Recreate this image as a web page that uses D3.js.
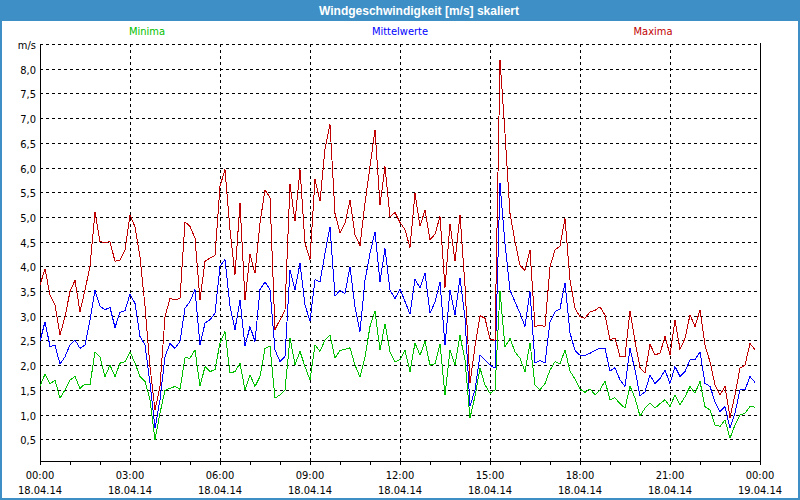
<!DOCTYPE html>
<html><head><meta charset="utf-8">
<script src="https://cdn.jsdelivr.net/npm/d3@7"></script>
<style>body{margin:0;background:#fff}svg{display:block}</style>
</head><body>
<svg id="c" width="800" height="500"></svg>
<script>
// ---- data (10-minute samples, 18.04.14 00:00 .. 23:50) ----
const startTime = new Date(2014, 3, 18, 0, 0);
const endTime = new Date(2014, 3, 19, 0, 0);
const stepMinutes = 10;
const maxima = [3.62,3.95,3.42,3.22,2.61,2.98,3.49,3.72,3.08,3.52,4.0,5.1,4.5,4.48,4.5,4.1,4.13,4.33,5.04,4.8,4.2,3.19,1.97,1.09,1.57,2.98,3.35,3.32,3.35,4.9,
4.81,4.57,3.32,4.1,4.17,4.22,5.62,5.96,4.74,3.83,5.28,3.32,4.24,3.86,4.88,5.55,5.39,2.72,2.92,3.12,5.66,4.91,5.96,4.47,4.14,5.76,5.32,6.37,6.87,5.07,
4.67,4.87,5.34,4.64,4.42,5.28,6.02,6.76,5.24,6.02,5.0,5.09,4.89,4.74,4.38,5.48,4.81,5.14,4.54,4.65,5.01,3.57,4.86,4.1,5.04,3.6,1.64,2.38,3.0,2.95,
2.53,2.5,8.18,6.69,5.07,4.5,4.02,3.92,4.33,2.78,2.81,2.78,3.99,4.33,4.41,4.97,3.72,3.15,2.98,2.95,3.08,3.11,3.18,3.01,2.51,2.55,2.17,2.17,3.1,2.48,
1.95,1.84,2.42,2.21,2.24,2.58,2.21,2.92,2.32,2.54,3.02,2.78,3.12,2.4,2.07,1.6,1.4,1.57,0.94,1.4,1.94,2.0,2.44,2.31];
const mittelwerte = [2.48,2.88,2.38,2.4,2.02,2.17,2.41,2.51,2.34,2.41,2.92,3.51,3.19,3.12,3.17,2.76,3.07,3.1,3.44,3.25,2.58,2.41,1.63,0.72,1.3,2.17,2.44,2.34,2.48,3.15,
3.29,3.53,2.41,2.85,2.92,3.05,4.0,4.14,3.19,2.72,3.32,2.38,2.78,2.48,3.53,3.68,3.53,2.31,2.07,2.18,3.93,3.53,4.06,3.22,2.89,3.73,3.68,4.27,4.8,3.4,
3.51,3.45,3.99,3.18,2.68,3.72,4.26,4.7,3.69,4.36,3.52,3.35,3.54,3.29,3.03,3.74,3.56,3.86,3.05,3.28,3.68,2.41,3.52,3.02,3.76,2.95,1.17,1.5,2.2,2.1,
2.0,1.94,5.68,4.46,3.52,3.28,3.05,2.78,3.49,2.04,2.1,2.04,2.88,3.08,3.14,3.67,2.65,2.3,2.2,2.2,2.24,2.3,2.34,2.34,1.88,1.95,1.7,1.57,2.34,1.9,
1.38,1.46,1.8,1.63,1.73,1.9,1.63,1.97,1.77,1.87,2.11,2.11,2.27,1.63,1.57,1.26,1.06,1.16,0.72,1.03,1.5,1.5,1.77,1.65];
const minima = [1.57,1.82,1.62,1.7,1.33,1.5,1.7,1.77,1.53,1.62,1.6,2.27,2.17,1.77,2.0,1.77,2.04,2.07,2.27,2.04,1.77,1.67,1.3,0.49,1.03,1.49,1.53,1.57,1.51,2.15,
2.14,2.31,1.57,1.97,1.87,1.91,2.45,2.68,1.84,1.87,2.04,1.5,1.8,1.57,1.77,2.34,2.38,1.33,1.4,1.5,2.55,2.01,2.28,1.97,1.7,2.41,2.28,2.51,2.61,2.14,
2.3,2.32,2.35,2.0,1.76,2.17,2.78,3.1,2.3,2.84,2.27,2.07,2.11,2.3,1.87,2.45,2.2,2.48,2.0,2.03,2.43,1.4,2.3,2.0,2.6,2.1,0.93,1.37,1.94,1.6,
1.43,1.5,3.5,2.37,2.54,2.27,2.14,1.87,2.45,1.6,1.5,1.63,1.9,2.07,2.02,2.31,1.88,1.72,1.52,1.45,1.52,1.4,1.5,1.68,1.3,1.34,1.22,1.13,1.58,1.33,
0.97,1.13,1.23,1.13,1.22,1.3,1.16,1.4,1.2,1.36,1.57,1.43,1.67,1.16,1.09,0.79,0.76,0.89,0.52,0.79,0.99,1.03,1.16,1.15];
const yTicks = [0.5,1.0,1.5,2.0,2.5,3.0,3.5,4.0,4.5,5.0,5.5,6.0,6.5,7.0,7.5,8.0];
const yUnitTick = 8.5;
const timeLabels = ["00:00","03:00","06:00","09:00","12:00","15:00","18:00","21:00","00:00"];
const dateLabels = ["18.04.14","18.04.14","18.04.14","18.04.14","18.04.14","18.04.14","18.04.14","18.04.14","19.04.14"];
const seriesNames = ["Minima","Mittelwerte","Maxima"];
const titleText = "Windgeschwindigkeit [m/s] skaliert";

// ---- drawing ----
const W = 800, H = 500;
const plot = {left: 40, right: 760, top: 44, bottom: 461};
const blue = "#3d8fc6";
const colors = {Minima: "#00c000", Mittelwerte: "#0000ff", Maxima: "#c00000"};
const font = "Tahoma, 'DejaVu Sans Condensed', 'Liberation Sans', sans-serif";

const svg = d3.select("#c");
svg.append("rect").attr("x", 0).attr("y", 0).attr("width", W).attr("height", H).attr("fill", "#fff");
svg.append("rect").attr("x", 0).attr("y", 0).attr("width", W).attr("height", 21).attr("fill", blue);
svg.append("rect").attr("x", 1).attr("y", 1).attr("width", W - 2).attr("height", H - 2)
  .attr("fill", "none").attr("stroke", blue).attr("stroke-width", 2);
svg.append("text").attr("x", 419).attr("y", 14.5).attr("text-anchor", "middle")
  .attr("font-family", "'Liberation Sans', Arial, sans-serif").attr("font-weight", "bold")
  .attr("font-size", 12).attr("fill", "#fff").text(titleText);

const legendX = [147, 400, 653];
seriesNames.forEach((n, k) => {
  svg.append("text").attr("x", legendX[k]).attr("y", 35).attr("text-anchor", "middle")
    .attr("font-family", font).attr("font-size", 11).attr("fill", colors[n]).text(n);
});

const x = d3.scaleTime().domain([startTime, endTime]).range([plot.left, plot.right]);
const y = d3.scaleLinear().domain([0.06, 8.5]).range([plot.bottom, plot.top]);
const times = maxima.map((_, i) => d3.timeMinute.offset(startTime, i * stepMinutes));

const g = svg.append("g");
// horizontal dashed grid
const hTicks = yTicks.concat([yUnitTick]);
g.selectAll("line.h").data(hTicks).enter().append("line")
  .attr("x1", plot.left).attr("x2", plot.right)
  .attr("y1", d => Math.round(y(d)) + 0.5).attr("y2", d => Math.round(y(d)) + 0.5)
  .attr("stroke", "#000").attr("stroke-dasharray", "3,3").attr("shape-rendering", "crispEdges");
// vertical dashed grid every 3 hours
const majorTimes = d3.timeHour.every(3).range(startTime, endTime).slice(1);
g.selectAll("line.v").data(majorTimes).enter().append("line")
  .attr("x1", d => Math.round(x(d)) + 0.5).attr("x2", d => Math.round(x(d)) + 0.5)
  .attr("y1", plot.top).attr("y2", plot.bottom)
  .attr("stroke", "#000").attr("stroke-dasharray", "3,3").attr("shape-rendering", "crispEdges");

// y labels
const yLab = svg.append("g").attr("font-family", font).attr("font-size", 11).attr("fill", "#000");
const fmt = d3.format(".1f");
hTicks.forEach(v => {
  yLab.append("text").attr("x", 36).attr("y", y(v) + 5).attr("text-anchor", "end")
    .text(v === yUnitTick ? "m/s" : fmt(v).replace(".", ","));
});

// x axis with hourly ticks
const xAxis = d3.axisBottom(x).ticks(d3.timeHour.every(1)).tickSize(4).tickFormat("");
const ax = svg.append("g").attr("transform", `translate(0,${plot.bottom})`).call(xAxis);
ax.select(".domain").remove();
ax.selectAll("line").attr("stroke", "#000").attr("shape-rendering", "crispEdges");

const labelTimes = d3.timeHour.every(3).range(startTime, d3.timeMinute.offset(endTime, 1));
const xl = svg.append("g").attr("font-family", font).attr("font-size", 11).attr("fill", "#000").attr("text-anchor", "middle");
labelTimes.forEach((t, k) => {
  xl.append("text").attr("x", x(t)).attr("y", 479).text(timeLabels[k]);
  xl.append("text").attr("x", x(t)).attr("y", 494).text(dateLabels[k]);
});

// frame lines (left, bottom, right)
svg.append("path")
  .attr("d", `M${plot.left + 0.5},${plot.top}V${plot.bottom + 0.5}H${plot.right + 0.5}V${plot.top - 1}`)
  .attr("fill", "none").attr("stroke", "#000").attr("shape-rendering", "crispEdges");

// series
const line = d3.line().x((d, i) => x(times[i])).y(d => y(d));
[["Minima", minima], ["Mittelwerte", mittelwerte], ["Maxima", maxima]].forEach(([n, arr]) => {
  svg.append("path").datum(arr).attr("d", line).attr("fill", "none")
    .attr("stroke", colors[n]).attr("stroke-width", 1).attr("shape-rendering", "crispEdges");
});
</script>
</body></html>
